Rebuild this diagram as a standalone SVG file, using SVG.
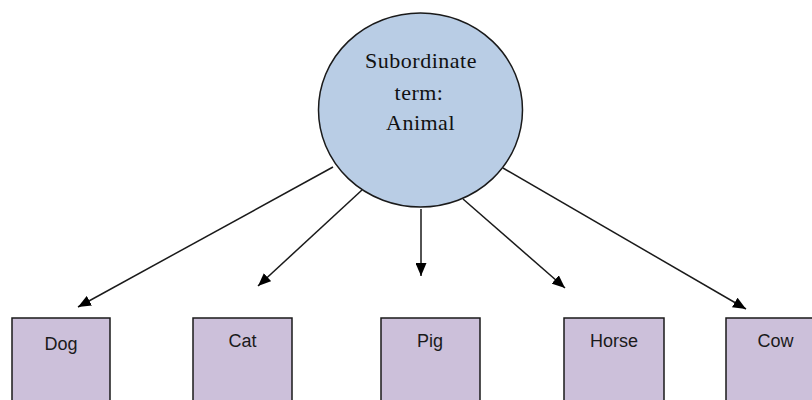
<svg xmlns="http://www.w3.org/2000/svg" width="812" height="400" viewBox="0 0 812 400">
<style>
.box{fill:#ccc0da;stroke:#1a1a1a;stroke-width:1.5}
.lbl{font-family:"Liberation Sans",Arial,sans-serif;font-size:18px;fill:#1a1a1a;text-anchor:middle}
.ctext{font-family:"Liberation Serif","Times New Roman",serif;font-size:22px;letter-spacing:0.5px;fill:#111;text-anchor:middle}
.conn{stroke:#1a1a1a;stroke-width:1.5;fill:none;marker-end:url(#ah)}
</style>
<defs>
<marker id="ah" viewBox="0 0 13 11" refX="13" refY="5.5" markerWidth="13" markerHeight="11" markerUnits="userSpaceOnUse" orient="auto">
<path d="M0,0 L13,5.5 L0,11 z" fill="#000"/>
</marker>
</defs>
<g id="connectors">
<line class="conn" x1="333" y1="167" x2="78" y2="307"/>
<line class="conn" x1="362" y1="190" x2="258" y2="286"/>
<line class="conn" x1="421" y1="209" x2="421" y2="276"/>
<line class="conn" x1="463" y1="199" x2="565" y2="288"/>
<line class="conn" x1="503" y1="168" x2="746" y2="309"/>
</g>
<g id="animal">
<ellipse cx="420.5" cy="110" rx="102" ry="97" fill="#b9cde5" stroke="#1a1a1a" stroke-width="1.5"/>
<text class="ctext" x="421" y="68">Subordinate</text>
<text class="ctext" x="419" y="100">term:</text>
<text class="ctext" x="420.5" y="130">Animal</text>
</g>
<g id="dog"><rect class="box" x="12" y="318" width="98" height="100"/><text class="lbl" x="61" y="350">Dog</text></g>
<g id="cat"><rect class="box" x="193" y="318" width="99" height="100"/><text class="lbl" x="242.5" y="347">Cat</text></g>
<g id="pig"><rect class="box" x="381" y="318" width="99" height="100"/><text class="lbl" x="430" y="347">Pig</text></g>
<g id="horse"><rect class="box" x="564" y="318" width="100" height="100"/><text class="lbl" x="614" y="347">Horse</text></g>
<g id="cow"><rect class="box" x="726" y="318" width="100" height="100"/><text class="lbl" x="775.5" y="347">Cow</text></g>
</svg>
